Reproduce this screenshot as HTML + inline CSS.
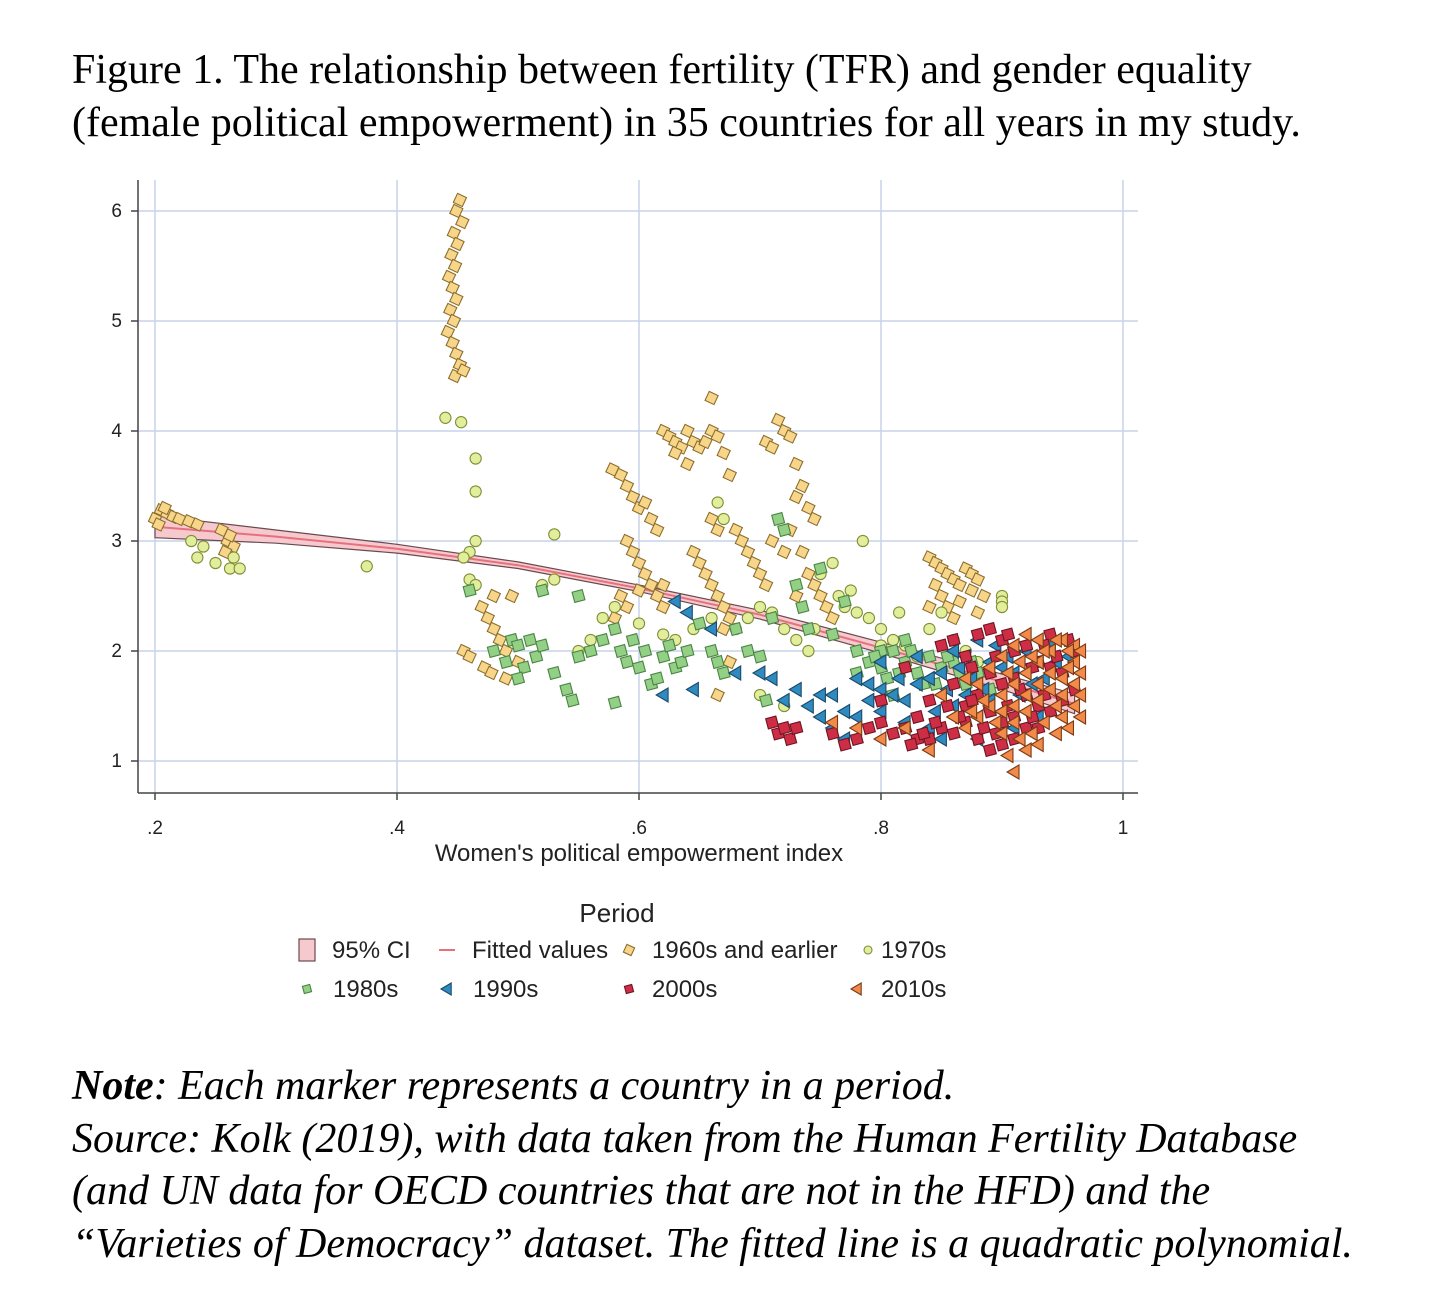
<!DOCTYPE html>
<html><head><meta charset="utf-8">
<style>
body{margin:0;background:#fff;width:1436px;height:1316px;overflow:hidden;position:relative;font-family:"Liberation Sans",sans-serif}
.t{position:absolute;font-family:"Liberation Serif",serif;color:#000;white-space:nowrap}
</style></head><body>
<div class="t" style="left:72px;top:44px;font-size:42px;line-height:53px">Figure 1. The relationship between fertility (TFR) and gender equality<br>(female political empowerment) in 35 countries for all years in my study.</div>
<svg id="ch" width="1436" height="1040" style="position:absolute;left:0;top:0" font-family="Liberation Sans, sans-serif"></svg>
<div class="t" style="left:72px;top:1060px;font-size:42px;line-height:52.5px;font-style:italic"><b>Note</b>: Each marker represents a country in a period.<br>Source: Kolk (2019), with data taken from the Human Fertility Database<br>(and UN data for OECD countries that are not in the HFD) and the<br>“Varieties of Democracy” dataset. The fitted line is a quadratic polynomial.</div>
<script>
const xTicks=[.2,.4,.6,.8,1];
const xTickLabels=[".2",".4",".6",".8","1"];
const yTicks=[1,2,3,4,5,6];
const fitX=[.2,.3,.4,.5,.6,.7,.8,.9,.96];
const fitY=[3.13,3.04,2.93,2.78,2.57,2.33,2.03,1.72,1.52];
const ciLo=[3.03,2.98,2.89,2.75,2.54,2.29,1.98,1.65,1.43];
const ciHi=[3.23,3.10,2.97,2.81,2.60,2.37,2.08,1.79,1.61];
const d60=[[.452,6.1],[.449,6.0],[.454,5.9],[.447,5.8],[.45,5.7],[.445,5.6],[.448,5.5],[.443,5.4],[.446,5.3],[.449,5.2],[.444,5.1],[.447,5.0],[.442,4.9],[.446,4.8],[.449,4.7],[.452,4.6],[.448,4.5],[.455,4.55],[.2,3.2],[.205,3.28],[.21,3.25],[.215,3.22],[.203,3.15],[.22,3.2],[.228,3.18],[.235,3.15],[.208,3.3],[.255,3.1],[.26,3.0],[.265,2.95],[.262,3.05],[.258,2.9],[.455,2.0],[.46,1.95],[.47,2.4],[.475,2.3],[.48,2.2],[.485,2.1],[.49,2.0],[.472,1.85],[.478,1.8],[.49,1.75],[.5,1.9],[.495,2.5],[.48,2.5],[.578,3.65],[.585,3.6],[.59,3.5],[.595,3.4],[.6,3.3],[.605,3.35],[.61,3.2],[.615,3.1],[.59,3.0],[.595,2.9],[.6,2.8],[.605,2.7],[.61,2.6],[.615,2.5],[.62,2.4],[.585,2.5],[.59,2.4],[.58,2.3],[.6,2.55],[.62,2.6],[.62,4.0],[.625,3.95],[.63,3.9],[.635,3.85],[.64,4.0],[.645,3.9],[.65,3.85],[.655,3.9],[.66,4.0],[.665,3.95],[.67,3.8],[.66,4.3],[.64,3.7],[.63,3.8],[.675,3.6],[.645,2.9],[.65,2.8],[.655,2.7],[.66,2.6],[.665,2.5],[.67,2.4],[.675,2.3],[.68,3.1],[.685,3.0],[.69,2.9],[.695,2.8],[.7,2.7],[.705,2.6],[.66,3.2],[.665,3.1],[.67,2.2],[.665,1.6],[.675,1.9],[.705,3.9],[.71,3.85],[.715,4.1],[.72,4.0],[.725,3.95],[.73,3.7],[.735,3.5],[.74,3.3],[.745,3.2],[.73,3.4],[.725,3.1],[.735,2.9],[.74,2.7],[.745,2.6],[.75,2.5],[.755,2.4],[.76,2.3],[.72,2.9],[.73,2.5],[.71,3.0],[.84,2.85],[.845,2.8],[.85,2.75],[.855,2.7],[.86,2.65],[.865,2.6],[.87,2.75],[.875,2.7],[.88,2.65],[.885,2.5],[.845,2.6],[.85,2.5],[.855,2.4],[.86,2.3],[.865,2.45],[.875,2.55],[.88,2.35],[.84,2.4]];
const d70=[[.44,4.12],[.453,4.08],[.465,3.75],[.465,3.45],[.465,3.0],[.46,2.9],[.455,2.85],[.46,2.65],[.465,2.6],[.23,3.0],[.235,2.85],[.24,2.95],[.25,2.8],[.262,2.75],[.27,2.75],[.265,2.85],[.375,2.77],[.53,3.06],[.53,2.65],[.52,2.6],[.57,2.3],[.56,2.1],[.55,2.0],[.58,2.4],[.6,2.25],[.62,2.15],[.63,2.1],[.645,2.2],[.66,2.3],[.665,3.35],[.67,3.2],[.68,2.2],[.69,2.3],[.7,2.4],[.71,2.35],[.72,2.2],[.73,2.1],[.74,2.0],[.75,2.7],[.76,2.8],[.77,2.4],[.78,2.35],[.785,3.0],[.79,2.3],[.8,2.2],[.81,2.1],[.82,2.05],[.83,1.95],[.84,2.2],[.85,2.35],[.86,2.1],[.87,2.0],[.88,1.9],[.9,2.5],[.9,2.45],[.9,2.4],[.72,1.5],[.7,1.6],[.745,2.2],[.8,2.05],[.765,2.5],[.775,2.55],[.815,2.35]];
const d80=[[.46,2.55],[.48,2.0],[.49,1.9],[.495,2.1],[.5,2.05],[.505,1.85],[.51,2.1],[.515,1.95],[.5,1.75],[.52,2.05],[.53,1.8],[.54,1.65],[.545,1.55],[.55,1.95],[.56,2.0],[.57,2.1],[.58,2.2],[.585,2.0],[.59,1.9],[.595,2.1],[.6,1.85],[.605,2.0],[.61,1.7],[.615,1.75],[.62,1.95],[.625,2.05],[.63,1.85],[.635,1.9],[.64,2.0],[.65,2.25],[.66,2.0],[.665,1.9],[.67,1.8],[.68,2.2],[.69,2.0],[.7,1.95],[.705,1.55],[.71,2.3],[.715,3.2],[.72,3.1],[.73,2.6],[.735,2.4],[.74,2.2],[.76,2.15],[.78,2.0],[.79,1.9],[.8,1.85],[.81,2.0],[.82,1.9],[.83,1.8],[.84,1.95],[.85,1.85],[.86,1.9],[.87,1.7],[.88,1.8],[.89,1.65],[.58,1.53],[.52,2.55],[.55,2.5],[.75,2.75],[.77,2.45],[.8,2.0],[.82,2.1],[.845,1.7],[.795,1.95],[.805,1.75],[.815,1.8],[.825,2.0],[.835,1.7],[.855,1.95],[.865,1.8],[.875,1.9],[.81,1.6],[.78,1.8]];
const d90=[[.63,2.45],[.64,2.35],[.62,1.6],[.645,1.65],[.66,2.2],[.68,1.8],[.7,1.8],[.71,1.75],[.72,1.55],[.73,1.65],[.74,1.5],[.75,1.4],[.76,1.3],[.77,1.2],[.78,1.75],[.79,1.7],[.8,1.65],[.81,1.6],[.82,1.55],[.83,1.7],[.84,1.75],[.85,1.8],[.86,2.0],[.87,1.95],[.88,2.1],[.89,1.9],[.9,1.85],[.91,1.8],[.92,2.0],[.93,1.9],[.94,2.05],[.95,2.1],[.8,1.45],[.82,1.35],[.84,1.3],[.86,1.5],[.88,1.4],[.9,1.45],[.76,1.6],[.78,1.4],[.8,1.9],[.83,1.95],[.87,1.6],[.89,1.55],[.91,1.3],[.93,1.4],[.85,1.2],[.88,1.2],[.865,1.85],[.875,1.75],[.885,1.65],[.895,2.05],[.905,1.95],[.915,1.6],[.925,1.7],[.935,1.75],[.945,1.9],[.955,1.95],[.845,1.45],[.855,1.65],[.815,1.75],[.79,1.55],[.77,1.45],[.75,1.6]];
const d00=[[.71,1.35],[.715,1.25],[.72,1.3],[.725,1.2],[.73,1.3],[.76,1.25],[.77,1.15],[.78,1.2],[.79,1.3],[.8,1.35],[.81,1.25],[.82,1.3],[.83,1.4],[.84,1.2],[.85,1.3],[.86,1.25],[.87,1.35],[.88,1.2],[.89,1.1],[.9,1.15],[.91,1.2],[.92,1.3],[.85,2.05],[.86,2.1],[.87,1.95],[.88,2.15],[.89,2.2],[.9,2.1],[.91,2.0],[.92,2.05],[.93,1.9],[.94,1.85],[.89,1.8],[.9,1.7],[.91,1.75],[.92,1.6],[.93,1.5],[.94,1.45],[.95,1.55],[.96,1.65],[.87,1.5],[.88,1.6],[.89,1.45],[.9,1.35],[.86,1.7],[.84,1.55],[.83,1.2],[.95,1.8],[.96,2.0],[.94,2.15],[.93,1.3],[.91,1.4],[.82,1.85],[.8,1.55],[.865,1.4],[.875,1.55],[.885,1.3],[.895,1.25],[.905,1.5],[.915,1.65],[.925,1.85],[.935,2.05],[.945,1.95],[.955,2.1],[.905,2.15],[.895,1.95],[.875,1.85],[.855,1.5],[.845,1.35],[.835,1.25],[.825,1.15],[.925,1.4],[.935,1.6]];
const d10=[[.91,0.9],[.905,1.05],[.92,1.1],[.93,1.15],[.87,1.3],[.88,1.4],[.89,1.5],[.9,1.6],[.91,1.7],[.92,1.8],[.93,1.9],[.94,2.0],[.95,2.1],[.96,2.05],[.96,1.9],[.95,1.75],[.94,1.65],[.93,1.55],[.92,1.45],[.91,1.35],[.9,1.25],[.89,1.85],[.9,1.95],[.91,2.05],[.92,2.15],[.93,2.1],[.94,1.8],[.95,1.4],[.96,1.5],[.96,1.7],[.95,1.6],[.93,1.7],[.92,1.6],[.91,1.5],[.9,1.45],[.88,1.7],[.87,1.75],[.86,1.4],[.85,1.6],[.84,1.1],[.82,1.3],[.8,1.2],[.78,1.3],[.76,1.35],[.955,1.3],[.945,1.25],[.935,2.0],[.925,1.95],[.915,1.9],[.905,1.8],[.945,1.5],[.955,1.85],[.965,1.8],[.965,1.6],[.965,2.0],[.935,1.35],[.925,1.25],[.915,1.2],[.895,1.35],[.885,1.55],[.875,1.45],[.945,2.1],[.955,2.0],[.965,1.4]];

const NS="http://www.w3.org/2000/svg";
const svg=document.getElementById('ch');
const X=v=>155+(v-.2)*1210;
const Y=v=>761-(v-1)*110;
function mk(tag,attrs,parent){const e=document.createElementNS(NS,tag);for(const k in attrs)e.setAttribute(k,attrs[k]);(parent||svg).appendChild(e);return e;}
xTicks.forEach((t,i)=>{
  const l=mk('line',{x1:X(t),x2:X(t),y1:180,y2:793,stroke:'#c5d3ea','stroke-width':1.5});
  
  
  mk('line',{x1:X(t),x2:X(t),y1:793,y2:800,stroke:'#444','stroke-width':1.5});
  const tx=mk('text',{x:X(t),y:834,'text-anchor':'middle','font-size':19,fill:'#222'});tx.textContent=xTickLabels[i];
  
  
});
yTicks.forEach(t=>{
  const l=mk('line',{x1:138,x2:1138,y1:Y(t),y2:Y(t),stroke:'#c5d3ea','stroke-width':1.5});
  
  
  mk('line',{x1:131,x2:138,y1:Y(t),y2:Y(t),stroke:'#444','stroke-width':1.5});
  const tx=mk('text',{x:122,y:Y(t)+6,'text-anchor':'end','font-size':19,fill:'#222'});tx.textContent=String(t);
  
  
});
mk('line',{x1:138,x2:138,y1:180,y2:793,stroke:'#444','stroke-width':1.5});
mk('line',{x1:138,x2:1138,y1:793,y2:793,stroke:'#444','stroke-width':1.5});
const xt=mk('text',{x:639,y:861,'text-anchor':'middle','font-size':24,fill:'#222'});xt.textContent="Women's political empowerment index";


let pts=fitX.map((x,i)=>X(x)+','+Y(ciHi[i])).concat(fitX.slice().reverse().map((x,j)=>X(x)+','+Y(ciLo[fitX.length-1-j])));
const ci=mk('polygon',{points:pts.join(' '),fill:'#f6c9cf',stroke:'#6b4a4e','stroke-width':1.2});


const fl=mk('polyline',{points:fitX.map((x,i)=>X(x)+','+Y(fitY[i])).join(' '),fill:'none',stroke:'#e8707c','stroke-width':2});


function marker(shape,cx,cy,fill,stroke,s,parent){
  if(shape==='diamond')return mk('polygon',{points:`${cx},${cy-s} ${cx+s},${cy} ${cx},${cy+s} ${cx-s},${cy}`,fill,stroke,'stroke-width':1.1,transform:`rotate(-20 ${cx} ${cy})`},parent);
  if(shape==='circle')return mk('circle',{cx,cy,r:s*0.8,fill,stroke,'stroke-width':1.1},parent);
  if(shape==='square')return mk('rect',{x:cx-s*0.75,y:cy-s*0.75,width:s*1.5,height:s*1.5,fill,stroke,'stroke-width':1.1,transform:`rotate(-15 ${cx} ${cy})`},parent);
  return mk('polygon',{points:`${cx-s},${cy} ${cx+s*0.7},${cy-s} ${cx+s*0.7},${cy+s}`,fill,stroke,'stroke-width':1.1},parent);
}
const series=[[d60,'diamond','#f7d68a','#8c6d2c','series-1960s'],[d70,'circle','#e3ee9c','#7f8f36','series-1970s'],[d80,'square','#93d086','#4a8442','series-1980s'],[d90,'tri','#2f8ac0','#1b4a6a','series-1990s'],[d00,'square','#cd2e45','#6e1522','series-2000s'],[d10,'tri','#f28a4a','#7a3a14','series-2010s']];
series.forEach(([d,sh,f,s,nm])=>{
  const g=mk('g',{});
  
  
  d.forEach(p=>{const m=marker(sh,X(p[0]),Y(p[1]),f,s,7,g);
    
    });
});
const lt=mk('text',{x:617,y:922,'text-anchor':'middle','font-size':26,fill:'#222'});lt.textContent='Period';


const lg=[[300,950,'ci','95% CI',332],[447,950,'line','Fitted values',472],[629,950,'diamond','1960s and earlier',652],[868,950,'circle','1970s',881],[307,989,'square','1980s',333],[447,989,'tri','1990s',473],[629,989,'square2','2000s',652],[857,989,'tri2','2010s',881]];
lg.forEach(([x,y,k,lab,tx])=>{
  const g=mk('g',{});
  
  
  if(k==='ci')mk('rect',{x:x-1,y:y-11,width:16,height:22,fill:'#f6c9cf',stroke:'#6b4a4e','stroke-width':1.2},g);
  else if(k==='line')mk('line',{x1:x-8,x2:x+8,y1:y,y2:y,stroke:'#e8707c','stroke-width':2},g);
  else if(k==='diamond')marker('diamond',x,y,'#f7d68a','#8c6d2c',6,g);
  else if(k==='circle')marker('circle',x,y,'#e3ee9c','#7f8f36',5,g);
  else if(k==='square')marker('square',x,y,'#93d086','#4a8442',5,g);
  else if(k==='square2')marker('square',x,y,'#cd2e45','#6e1522',5,g);
  else if(k==='tri')marker('tri',x,y,'#2f8ac0','#1b4a6a',6,g);
  else marker('tri',x,y,'#f28a4a','#7a3a14',6,g);
  const t=mk('text',{x:tx,y:y+8,'font-size':24,fill:'#222'},g);t.textContent=lab;
});
</script>
</body></html>
